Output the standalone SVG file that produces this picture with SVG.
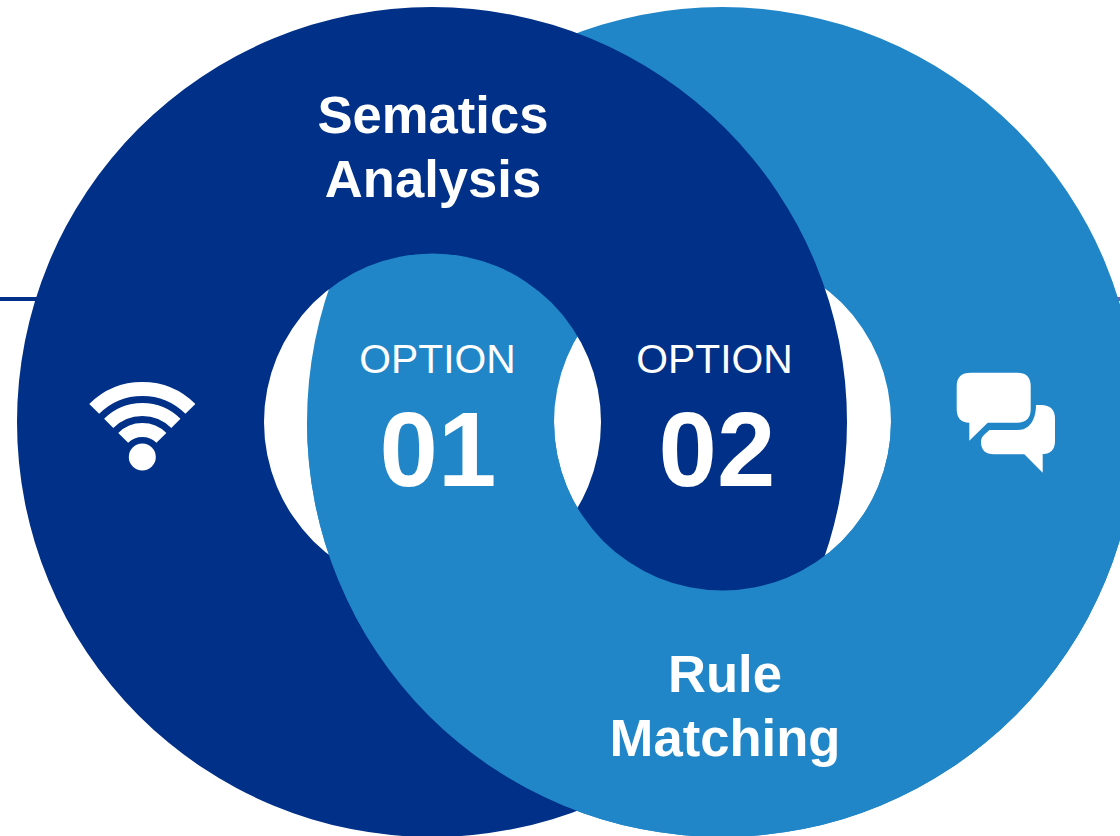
<svg xmlns="http://www.w3.org/2000/svg" xmlns:xlink="http://www.w3.org/1999/xlink" width="1120" height="836" viewBox="0 0 1120 836">
<style>
.dark{fill:#003087}
.light{fill:#2086c8}
text{fill:#fff;font-family:"Liberation Sans",Arial,sans-serif;text-anchor:middle}
.title{font-size:52.600px;font-weight:700}
.opt{font-size:40.800px}
.num{font-size:105px;font-weight:700}
.wifi{fill:none;stroke:#fff;stroke-linecap:butt}
</style>
<defs>
<path id="ringDark" fill-rule="evenodd" d="M17 422a415 415 0 1 0 830 0a415 415 0 1 0 -830 0ZM264 422a168.500 168.500 0 1 0 337 0a168.500 168.500 0 1 0 -337 0Z"/>
<path id="ringLight" fill-rule="evenodd" d="M307 422a415 415 0 1 0 830 0a415 415 0 1 0 -830 0ZM554 422a168.500 168.500 0 1 0 337 0a168.500 168.500 0 1 0 -337 0Z"/>
<clipPath id="lowerHalf"><rect x="0" y="422" width="1120" height="414"/></clipPath>
</defs>
<rect width="1120" height="836" fill="#fff"/>
<g id="connectors">
<rect x="0" y="297" width="40" height="4" fill="#003087"/>
<rect x="1110" y="297" width="10" height="4" fill="#6a63ad"/>
</g>
<g id="ring-light-back"><use xlink:href="#ringLight" href="#ringLight" class="light"/></g>
<g id="ring-dark"><use xlink:href="#ringDark" href="#ringDark" class="dark"/></g>
<g id="ring-light-front"><use xlink:href="#ringLight" href="#ringLight" class="light" clip-path="url(#lowerHalf)"/></g>
<g id="node-semantics">
<text class="title" x="433" y="133">Sematics</text>
<text class="title" x="433" y="197">Analysis</text>
</g>
<g id="node-rule">
<text class="title" x="725" y="692">Rule</text>
<text class="title" x="725" y="756">Matching</text>
</g>
<g id="node-option1">
<text class="opt" x="437.500" y="373">OPTION</text>
<text class="num" x="438" y="486">01</text>
</g>
<g id="node-option2">
<text class="opt" x="714.500" y="373">OPTION</text>
<text class="num" x="717" y="486">02</text>
</g>
<g id="icon-wifi">
<path class="wifi" stroke-width="14" d="M94.200 408.900A68 68 0 0 1 190.400 408.900"/>
<path class="wifi" stroke-width="13" d="M108.700 423.400A47.500 47.500 0 0 1 175.900 423.400"/>
<path class="wifi" stroke-width="14" d="M123.200 437.900A27 27 0 0 1 161.400 437.900"/>
<circle cx="142.300" cy="457" r="13.500" fill="#fff"/>
</g>
<g id="icon-chat" fill="#fff">
<path d="M971 372.700H1017Q1030.700 372.700 1030.700 386V409Q1030.700 422.700 1017 422.700H987.700L969.300 440.700V422.700Q956.700 422.700 956.700 409V386Q956.700 372.700 971 372.700Z"/>
<path d="M1036 405H1041Q1055 405 1055 419V441Q1055 454.300 1041 454.300H1042.700V472.700L1024.300 454.300H994Q981 454.300 981 442Q981 437 985 434L989.500 430H1018C1030 430 1036 419 1036 405Z"/>
</g>
</svg>
